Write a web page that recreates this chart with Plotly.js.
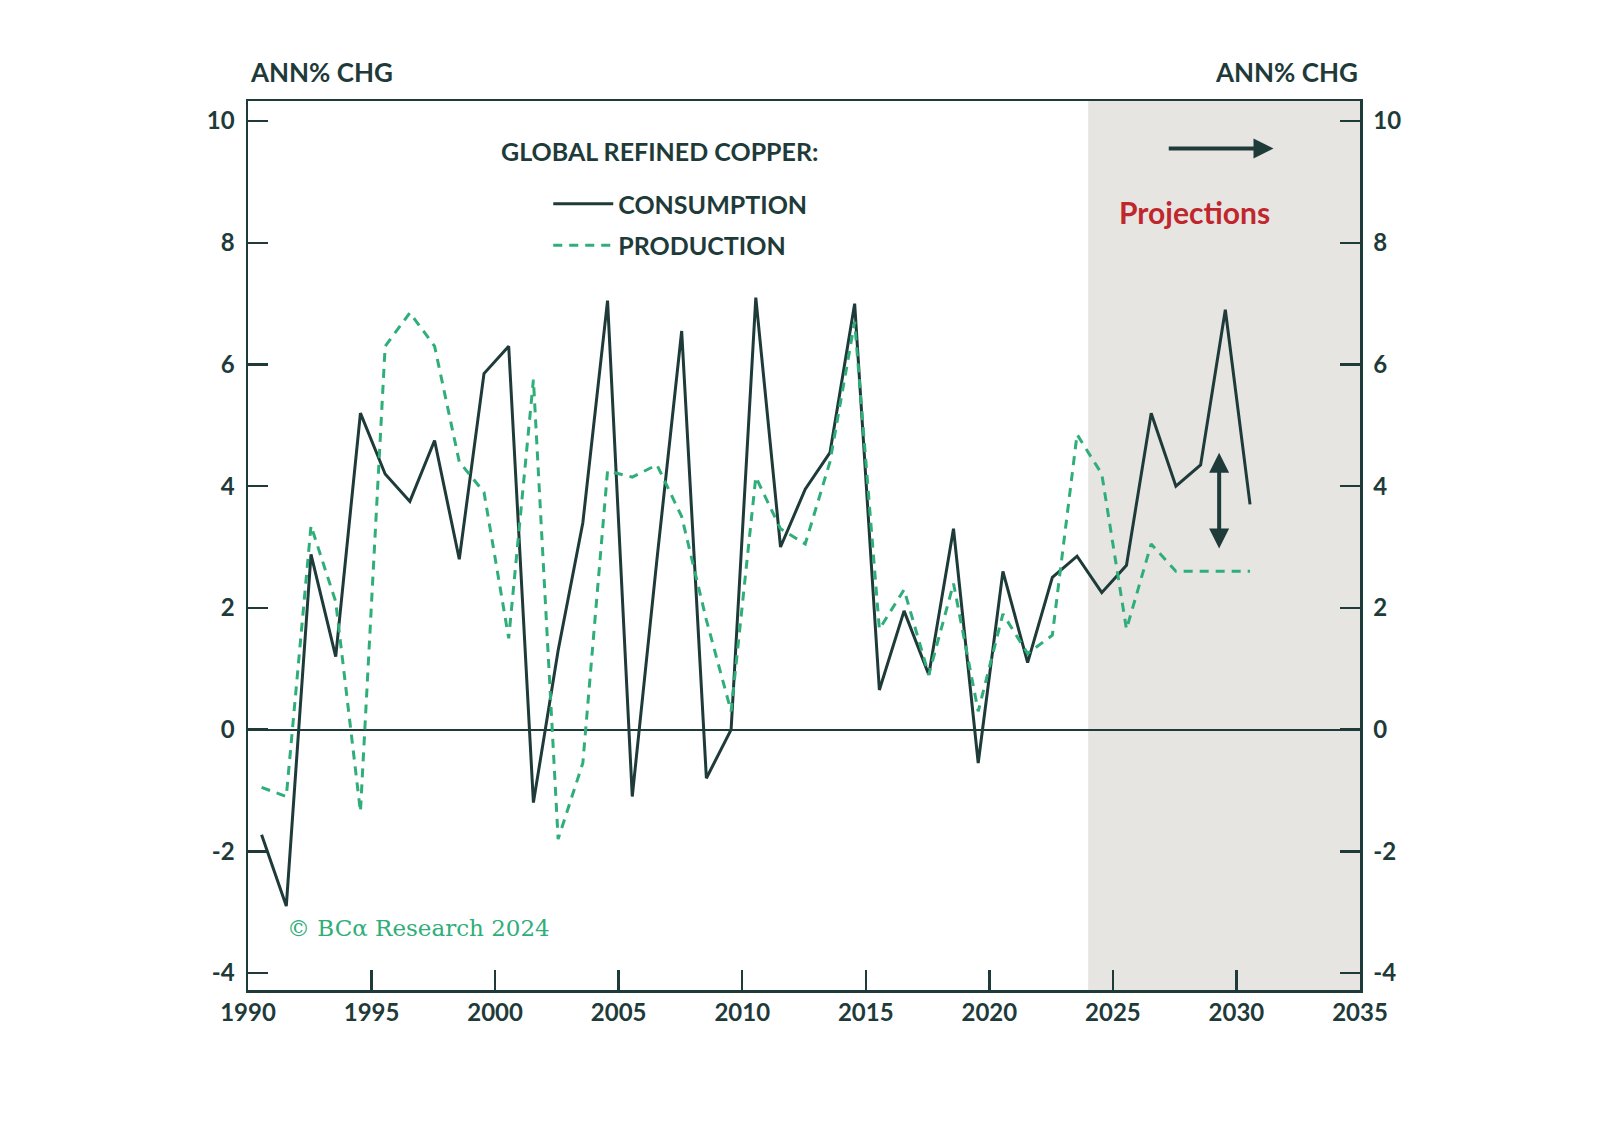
<!DOCTYPE html>
<html>
<head>
<meta charset="utf-8">
<script src="https://cdn.plot.ly/plotly-3.0.1.min.js"></script>
<style>body{margin:0;background:#fff}</style>
</head>
<body>
<div id="chart" style="width:1600px;height:1126px"></div>
<script>
// annual % change, points plotted mid-year
const YEARS = [1990,1991,1992,1993,1994,1995,1996,1997,1998,1999,2000,2001,2002,2003,2004,2005,2006,2007,2008,2009,
	2010,2011,2012,2013,2014,2015,2016,2017,2018,2019,2020,2021,2022,2023,2024,2025,2026,2027,2028,2029,2030];
const CONSUMPTION = [-1.73,-2.9,2.88,1.2,5.2,4.2,3.75,4.75,2.8,5.85,6.3,-1.2,1.3,3.4,7.05,-1.1,2.8,6.55,-0.8,0,
	7.1,3.0,3.95,4.55,7.0,0.65,1.95,0.9,3.3,-0.55,2.6,1.1,2.5,2.85,2.25,2.7,5.2,4.0,4.35,6.9,3.7];
const PRODUCTION = [-0.95,-1.1,3.35,2.1,-1.35,6.3,6.85,6.3,4.4,3.9,1.5,5.75,-1.8,-0.55,4.25,4.15,4.35,3.5,1.8,0.3,
	4.15,3.3,3.05,4.4,6.7,1.65,2.3,0.9,2.4,0.3,1.9,1.25,1.55,4.85,4.2,1.65,3.05,2.6,2.6,2.6,2.6];
const Y_TICKS = [ -4, -2, 0, 2, 4, 6, 8, 10 ];
const Y_LABELS = [ '-4', '-2', '0', '2', '4', '6', '8', '10' ];
const PROJ_START = 2024, PROJ_END = 2035;

const DARK  = '#1e3b3a';
const GREEN = '#2fae7a';
const FONT  = 'Lato, "Open Sans", sans-serif';

const xs = YEARS.map( y => y + 0.55 );

const traces = [
	{ x: xs, y: CONSUMPTION, mode: 'lines', name: 'CONSUMPTION', legendgroup: 'c',
	  line: { color: DARK, width: 3 } },
	{ x: xs, y: PRODUCTION, mode: 'lines', name: 'PRODUCTION', legendgroup: 'p',
	  line: { color: GREEN, width: 3, dash: '9px,7px' } },
	{ x: xs, y: CONSUMPTION, yaxis: 'y2', mode: 'none', showlegend: false, hoverinfo: 'skip' }
];

const tickFont = { family: FONT, size: 24, color: DARK, weight: 700 };
const yAxisBase = {
	range: [ -4.28, 10.33 ], tickvals: Y_TICKS, ticktext: Y_LABELS, ticks: 'inside', ticklen: 20,
	tickwidth: 2.5, tickcolor: DARK, showgrid: false, showline: true, linecolor: DARK, linewidth: 2.5,
	tickfont: tickFont, ticklabelstandoff: 6
};

const layout = {
	width: 1600, height: 1126,
	margin: { l: 248, r: 240, t: 101, b: 136 },
	paper_bgcolor: '#fff', plot_bgcolor: '#fff',
	font: { family: FONT, color: DARK },
	showlegend: true,
	legend: { x: 0.27, y: 0.91, xanchor: 'left', yanchor: 'top', bgcolor: 'rgba(0,0,0,0)',
		font: { family: FONT, size: 25, color: DARK, weight: 700 }, itemwidth: 60, tracegroupgap: 6 },
	xaxis: { range: [ 1990, 2035 ], dtick: 5, tick0: 1990, ticks: 'inside', ticklen: 20, tickwidth: 2.5,
		tickcolor: DARK, showgrid: false, zeroline: false, showline: true, linecolor: DARK, linewidth: 2.5,
		mirror: true, tickfont: tickFont },
	yaxis: { ...yAxisBase, zeroline: true, zerolinecolor: DARK, zerolinewidth: 2 },
	yaxis2: { ...yAxisBase, overlaying: 'y', side: 'right', zeroline: false },
	shapes: [
		{ type: 'rect', xref: 'x', yref: 'paper', x0: PROJ_START, x1: PROJ_END, y0: 0, y1: 1,
		  fillcolor: '#e6e5e2', line: { width: 0 }, layer: 'below' }
	],
	annotations: [
		{ text: 'ANN% CHG', xref: 'paper', yref: 'paper', x: 0, y: 1.012, xanchor: 'left', yanchor: 'bottom',
		  showarrow: false, font: { family: FONT, size: 26, color: DARK, weight: 700 } },
		{ text: 'ANN% CHG', xref: 'paper', yref: 'paper', x: 1, y: 1.012, xanchor: 'right', yanchor: 'bottom',
		  showarrow: false, font: { family: FONT, size: 26, color: DARK, weight: 700 } },
		{ text: 'GLOBAL REFINED COPPER:', xref: 'paper', yref: 'paper', x: 0.226, y: 0.944, xanchor: 'left',
		  yanchor: 'middle', showarrow: false, font: { family: FONT, size: 25, color: DARK, weight: 700 } },
		{ text: 'Projections', xref: 'x', yref: 'y', x: 2028.3, y: 8.5, showarrow: false,
		  font: { family: FONT, size: 30, color: '#c0272d', weight: 700 } },
		{ text: '', xref: 'x', yref: 'y', axref: 'x', ayref: 'y', x: 2031.5, y: 9.55, ax: 2027.2, ay: 9.55,
		  showarrow: true, arrowhead: 2, arrowsize: 1, arrowwidth: 4, arrowcolor: DARK },
		{ text: '', xref: 'x', yref: 'y', axref: 'x', ayref: 'y', x: 2029.3, y: 4.55, ax: 2029.3, ay: 2.95,
		  showarrow: true, arrowhead: 2, startarrowhead: 2, arrowside: 'end+start', arrowsize: 1,
		  arrowwidth: 4, arrowcolor: DARK },
		{ text: '© BCα Research 2024', xref: 'paper', yref: 'paper', x: 0.033, y: 0.053, xanchor: 'left',
		  showarrow: false, font: { family: '"DejaVu Serif", "Liberation Serif", serif', size: 23, color: GREEN } }
	]
};

Plotly.newPlot( 'chart', traces, layout, { staticPlot: true } );
</script>
</body>
</html>
